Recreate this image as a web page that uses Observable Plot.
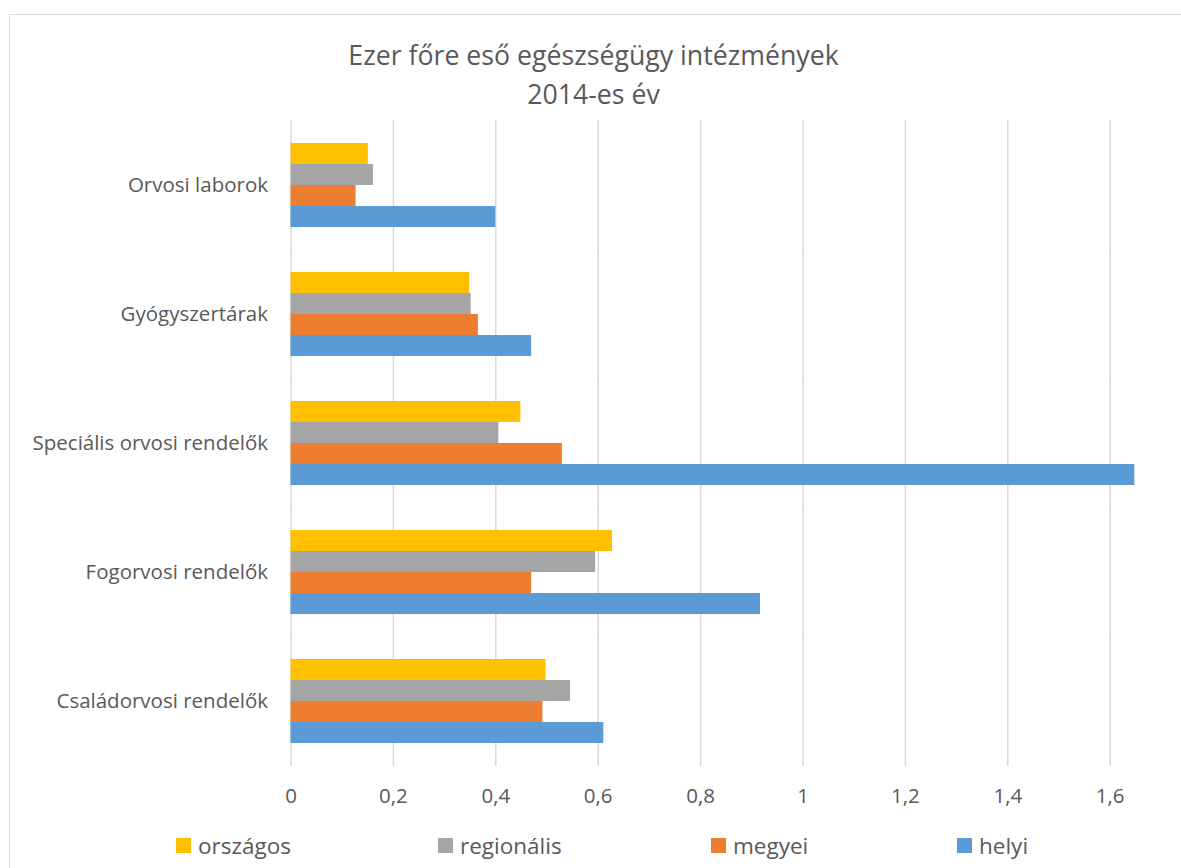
<!DOCTYPE html>
<html>
<head>
<meta charset="utf-8">
<script src="https://cdn.jsdelivr.net/npm/d3@7"></script>
<script src="https://cdn.jsdelivr.net/npm/@observablehq/plot@0.6"></script>
<style>
  html, body { margin: 0; padding: 0; background: #fff; overflow: hidden; }
  body { width: 1181px; height: 868px; position: relative; font-family: "Open Sans", sans-serif; color: #595959; }
  #frame { position: absolute; left: 9px; top: 14px; width: 1250px; height: 950px; border: 1px solid #d9d9d9; box-sizing: border-box; }
  #title { position: absolute; left: 0; top: 35px; width: 1187px; text-align: center; font-size: 26.7px; line-height: 39px; color: #595959; }
  #chart { position: absolute; left: 0; top: 105px; }
  #legend { position: absolute; left: 0; top: 830px; width: 1181px; height: 30px; font-size: 22.5px; }
  #legend .item { position: absolute; top: 0; display: flex; align-items: center; height: 30px; }
  #legend .sw { width: 15px; height: 15px; margin-right: 7px; }
  #legend .item:nth-child(1) { left: 176px; }
  #legend .item:nth-child(2) { left: 438px; }
  #legend .item:nth-child(3) { left: 711px; }
  #legend .item:nth-child(4) { left: 957px; }
</style>
</head>
<body>
<div id="frame"></div>
<div id="title">Ezer főre eső egészségügy intézmények<br>2014-es év</div>
<div id="chart"></div>
<div id="legend"></div>
<script>
const categories = ["Orvosi laborok", "Gyógyszertárak", "Speciális orvosi rendelők", "Fogorvosi rendelők", "Családorvosi rendelők"];
const series = ["országos", "regionális", "megyei", "helyi"];
const colors = ["#FFC000", "#A5A5A5", "#ED7D31", "#5B9BD5"];
const orszagos   = [0.151, 0.349, 0.449, 0.628, 0.498];
const regionalis = [0.161, 0.352, 0.406, 0.595, 0.546];
const megyei     = [0.127, 0.366, 0.530, 0.470, 0.492];
const helyi      = [0.400, 0.470, 1.648, 0.917, 0.611];
const xTicks = [0, 0.2, 0.4, 0.6, 0.8, 1, 1.2, 1.4, 1.6];

const valuesBySeries = [orszagos, regionalis, megyei, helyi];
const data = categories.flatMap((c, i) => series.map((s, j) => ({category: c, series: s, value: valuesBySeries[j][i]})));

const chart = Plot.plot({
  width: 1181,
  height: 715,
  marginTop: 14,
  marginBottom: 53,
  marginLeft: 290.5,
  marginRight: 0,
  style: {fontFamily: "'Open Sans', sans-serif", fontSize: "20.5px", color: "#595959", background: "transparent", overflow: "visible"},
  x: {domain: [0, 890.5 / 512], label: null},
  y: {domain: series, axis: null, padding: 0},
  fy: {domain: categories, paddingInner: 0.352, paddingOuter: 0.176, label: null, axis: null},
  color: {domain: series, range: colors},
  marks: [
    Plot.ruleX(xTicks, {stroke: "#d9d9d9", strokeWidth: 1.5, insetTop: -23, insetBottom: -23}),
    Plot.barX(data, {x: "value", y: "series", fy: "category", fill: "series"}),
    Plot.axisFy({anchor: "left", tickSize: 0, tickPadding: 23, fontSize: 20.5}),
    Plot.axisX(xTicks, {anchor: "bottom", tickSize: 0, tickPadding: 45, fontSize: 20.5, tickFormat: d => String(d).replace(".", ",")})
  ]
});
document.getElementById("chart").appendChild(chart);

const legend = document.getElementById("legend");
series.forEach((s, i) => {
  const item = document.createElement("div");
  item.className = "item";
  const sw = document.createElement("div");
  sw.className = "sw";
  sw.style.background = colors[i];
  const label = document.createElement("span");
  label.textContent = s;
  item.appendChild(sw);
  item.appendChild(label);
  legend.appendChild(item);
});
</script>
</body>
</html>
